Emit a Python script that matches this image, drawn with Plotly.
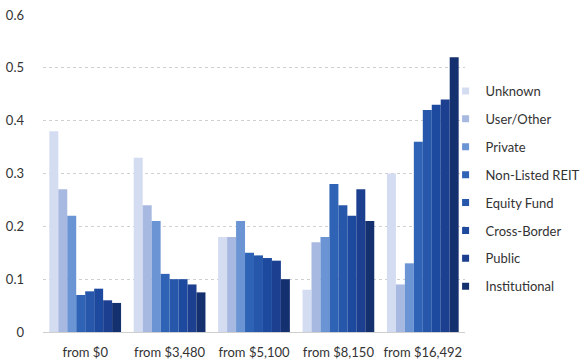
import plotly.graph_objects as go

categories = ["from $0", "from $3,480", "from $5,100", "from $8,150", "from $16,492"]
series_names = ["Unknown", "User/Other", "Private", "Non-Listed REIT",
                "Equity Fund", "Cross-Border", "Public", "Institutional"]
unknown = [0.38, 0.33, 0.18, 0.08, 0.30]
user_other = [0.27, 0.24, 0.18, 0.17, 0.09]
private = [0.22, 0.21, 0.21, 0.18, 0.13]
non_listed_reit = [0.07, 0.11, 0.15, 0.28, 0.36]
equity_fund = [0.077, 0.10, 0.145, 0.24, 0.42]
cross_border = [0.082, 0.10, 0.14, 0.22, 0.43]
public = [0.06, 0.09, 0.135, 0.27, 0.44]
institutional = [0.055, 0.075, 0.10, 0.21, 0.52]
y_ticks = [0, 0.1, 0.2, 0.3, 0.4, 0.5, 0.6]
y_tick_labels = ["0", "0.1", "0.2", "0.3", "0.4", "0.5", "0.6"]

values = [unknown, user_other, private, non_listed_reit,
          equity_fund, cross_border, public, institutional]
colors = ["#d3dcf1", "#a7b8e1", "#6b94d4", "#2f63b6",
          "#2657aa", "#1d4a9f", "#1c3f8f", "#15306f"]

fig = go.Figure()
for name, vals, col in zip(series_names, values, colors):
    fig.add_trace(go.Bar(x=categories, y=vals, name=name, marker_color=col,
                         marker_line_width=0, showlegend=False))
# legend entries with small square swatches
for name, col in zip(series_names, colors):
    fig.add_trace(go.Scatter(x=[None], y=[None], mode="markers", name=name,
                             marker=dict(symbol="square", size=7, color=col),
                             legendgroup=name, showlegend=True))

fig.update_layout(
    width=584, height=362,
    margin=dict(l=43, r=119, t=15, b=30, autoexpand=False),
    barmode="group", bargap=0.15, bargroupgap=0,
    plot_bgcolor="white", paper_bgcolor="white",
    font=dict(family="Lato", size=13, color="#333333"),
    legend=dict(xref="container", yref="container", x=0.763, y=0.79,
                xanchor="left", yanchor="top", tracegroupgap=8,
                font=dict(size=13, color="#333333"), maxheight=330,
                bgcolor="rgba(0,0,0,0)"),
    showlegend=True,
)
fig.update_yaxes(range=[0, 0.6], tickvals=y_ticks, ticktext=y_tick_labels,
                 showgrid=True, gridcolor="#cfcfcf", griddash="dot", gridwidth=1,
                 zeroline=True, zerolinecolor="#cfcfcf", zerolinewidth=1,
                 showline=False, ticks="", ticklabelstandoff=18, automargin=False)
fig.update_xaxes(showline=False, ticks="", showgrid=False, ticklabelstandoff=11,
                 automargin=False)

fig.write_html("out.html")
